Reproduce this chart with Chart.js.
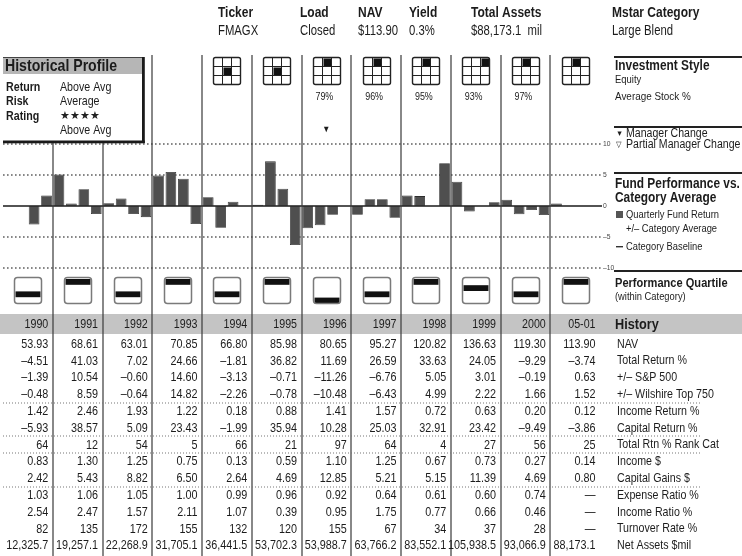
<!DOCTYPE html>
<html>
<head>
<meta charset="utf-8">
<script src="https://cdn.jsdelivr.net/npm/chart.js@4.4.0/dist/chart.umd.min.js"></script>
<style>
html, body { margin: 0; padding: 0; background: #fff; }
#wrap { position: relative; width: 742px; height: 556px; }
</style>
</head>
<body>
<div id="wrap"><canvas id="chart" width="742" height="556"></canvas></div>
<script>
// ---- data ----
const years = ['1990', '1991', '1992', '1993', '1994', '1995', '1996', '1997', '1998', '1999', '2000', '05-01'];
const quarterLabels = years.flatMap(y => ['Q1 ' + y, 'Q2 ' + y, 'Q3 ' + y, 'Q4 ' + y]);

// quarterly fund return +/- category average
const fundVsCat = [
  0, 0, -3.0, 1.7,
  5.1, 0.4, 2.7, -1.3,
  0.45, 1.2, -1.3, -1.8,
  4.9, 5.5, 4.4, -2.9,
  1.4, -3.5, 0.7, 0,
  0.2, 7.2, 2.8, -6.3,
  -3.6, -3.1, -1.4, 0,
  -1.4, 1.1, 1.1, -1.9,
  1.7, 1.6, 0, 6.9,
  3.9, -0.9, 0, 0.6,
  1.0, -1.35, -0.65, -1.45,
  0.4, null, null, null
];
const yTicks = [10, 5, 0, -5, -10];

const headerTitles = ['Ticker', 'Load', 'NAV', 'Yield', 'Total Assets', 'Mstar Category'];
const headerValues = ['FMAGX', 'Closed', '$113.90', '0.3%', '$88,173.1  mil', 'Large Blend'];

const profileLabels = ['Return', 'Risk', 'Rating', ''];
const profileValues = ['Above Avg', 'Average', '\u2605\u2605\u2605\u2605', 'Above Avg'];

// style box: cell index 0..8 (row*3+col), null = no box
const styleCells = [null, null, null, null, 4, 4, 1, 1, 1, 2, 1, 1];
const stockPct = [null, null, null, null, null, null, 79, 96, 95, 93, 97, null];
const managerChanges = [25]; // quarter index
const quartiles = [3, 1, 3, 1, 3, 1, 4, 3, 1, 2, 3, 1];

const nav = [53.93, 68.61, 63.01, 70.85, 66.80, 85.98, 80.65, 95.27, 120.82, 136.63, 119.30, 113.90];
const totalReturn = [-4.51, 41.03, 7.02, 24.66, -1.81, 36.82, 11.69, 26.59, 33.63, 24.05, -9.29, -3.74];
const vsSP500 = [-1.39, 10.54, -0.60, 14.60, -3.13, -0.71, -11.26, -6.76, 5.05, 3.01, -0.19, 0.63];
const vsWilshire = [-0.48, 8.59, -0.64, 14.82, -2.26, -0.78, -10.48, -6.43, 4.99, 2.22, 1.66, 1.52];
const incomeReturn = [1.42, 2.46, 1.93, 1.22, 0.18, 0.88, 1.41, 1.57, 0.72, 0.63, 0.20, 0.12];
const capitalReturn = [-5.93, 38.57, 5.09, 23.43, -1.99, 35.94, 10.28, 25.03, 32.91, 23.42, -9.49, -3.86];
const rankCat = [64, 12, 54, 5, 66, 21, 97, 64, 4, 27, 56, 25];
const incomeDollar = [0.83, 1.30, 1.25, 0.75, 0.13, 0.59, 1.10, 1.25, 0.67, 0.73, 0.27, 0.14];
const capGains = [2.42, 5.43, 8.82, 6.50, 2.64, 4.69, 12.85, 5.21, 5.15, 11.39, 4.69, 0.80];
const expenseRatio = [1.03, 1.06, 1.05, 1.00, 0.99, 0.96, 0.92, 0.64, 0.61, 0.60, 0.74, null];
const incomeRatio = [2.54, 2.47, 1.57, 2.11, 1.07, 0.39, 0.95, 1.75, 0.77, 0.66, 0.46, null];
const turnover = [82, 135, 172, 155, 132, 120, 155, 67, 34, 37, 28, null];
const netAssets = [12325.7, 19257.1, 22268.9, 31705.1, 36441.5, 53702.3, 53988.7, 63766.2, 83552.1, 105938.5, 93066.9, 88173.1];

const rowLabels = ['NAV', 'Total Return %', '+/\u2013 S&P 500', '+/\u2013 Wilshire Top 750', 'Income Return %',
  'Capital Return %', 'Total Rtn % Rank Cat', 'Income $', 'Capital Gains $', 'Expense Ratio %',
  'Income Ratio %', 'Turnover Rate %', 'Net Assets $mil'];
const tableRows = [nav, totalReturn, vsSP500, vsWilshire, incomeReturn, capitalReturn, rankCat,
  incomeDollar, capGains, expenseRatio, incomeRatio, turnover, netAssets];
const rowDecimals = [2, 2, 2, 2, 2, 2, 0, 2, 2, 2, 2, 0, 1];
const dottedAfterRow = [3, 5, 6, 8];

// ---- helpers ----
const FONT = '"Liberation Sans", Arial, sans-serif';
const INK = '#1c1c1c';

function txt(ctx, s, x, y, size, opt = {}) {
  ctx.save();
  ctx.translate(x, y);
  ctx.scale(opt.sx || 0.82, 1);
  ctx.font = (opt.bold ? 'bold ' : '') + size + 'px ' + FONT;
  ctx.textAlign = opt.align || 'left';
  ctx.textBaseline = 'middle';
  ctx.fillStyle = opt.color || INK;
  ctx.fillText(s, 0, 0);
  ctx.restore();
}

function dots(ctx, x0, x1, y, step, size, color) {
  ctx.fillStyle = color;
  for (let x = x0; x < x1; x += step) ctx.fillRect(x, y - size / 2, size, size);
}

function fmt(v, d) {
  if (v === null || v === undefined) return '\u2014';
  let s = Math.abs(v).toFixed(d);
  if (d === 1) {
    const p = s.split('.');
    s = p[0].replace(/\B(?=(\d{3})+(?!\d))/g, ',') + '.' + p[1];
  }
  return (v < 0 ? '\u2013' : '') + s;
}

function roundRect(ctx, x, y, w, h, r) {
  ctx.beginPath();
  ctx.moveTo(x + r, y);
  ctx.arcTo(x + w, y, x + w, y + h, r);
  ctx.arcTo(x + w, y + h, x, y + h, r);
  ctx.arcTo(x, y + h, x, y, r);
  ctx.arcTo(x, y, x + w, y, r);
  ctx.closePath();
}

function columns(chart) {
  const xs = chart.scales.x, a = chart.chartArea;
  const qw = (a.right - a.left) / quarterLabels.length;
  return years.map((y, j) => {
    const left = xs.getPixelForValue(j * 4) - qw / 2;
    return { left, right: left + qw * 4, center: left + qw * 2 };
  });
}

const pagePlugin = {
  id: 'page',
  beforeDatasetsDraw(chart) {
    const ctx = chart.ctx, ys = chart.scales.y, a = chart.chartArea;
    ctx.save();
    yTicks.forEach(v => {
      if (v !== 0) dots(ctx, a.left, a.right, Math.round(ys.getPixelForValue(v)), 4, 1.6, '#6a6a6a');
    });
    ctx.restore();
  },
  afterDraw(chart) {
    const ctx = chart.ctx, ys = chart.scales.y, xs = chart.scales.x, a = chart.chartArea;
    const cols = columns(chart);
    const qw = (a.right - a.left) / quarterLabels.length;
    ctx.save();

    // zero baseline + y labels
    const y0 = ys.getPixelForValue(0);
    ctx.fillStyle = '#2a2a2a';
    ctx.fillRect(a.left, y0 - 0.8, a.right - a.left + 2, 1.6);
    yTicks.forEach(v => {
      txt(ctx, v < 0 ? '\u2013' + Math.abs(v) : String(v), a.right + 3, ys.getPixelForValue(v), 7.5, { sx: 0.9, color: '#444' });
    });

    // history band
    ctx.fillStyle = '#c4c4c4';
    ctx.fillRect(0, 314, 742, 20);

    // column dividers
    ctx.fillStyle = '#3a3a3a';
    cols.forEach((c, j) => {
      if (j === 0) return;
      const top = j <= 2 ? 143 : 55;
      ctx.fillRect(Math.round(c.left) - 0.6, top, 1.2, 556 - top);
    });

    // top header
    const hx = [218, 300, 358, 409, 471, 612];
    headerTitles.forEach((t, i) => {
      txt(ctx, t, hx[i], 13, 15, { bold: true, sx: 0.8 });
      txt(ctx, headerValues[i], hx[i], 31, 14.5, { sx: 0.78 });
    });

    // historical profile box
    ctx.fillStyle = '#fff';
    ctx.fillRect(0, 55, 146, 88);
    ctx.fillStyle = '#b6b6b6';
    ctx.fillRect(3, 57, 140, 17);
    ctx.fillStyle = '#444';
    ctx.fillRect(3, 57, 140, 1);
    ctx.fillStyle = '#1a1a1a';
    ctx.fillRect(142, 57, 2.8, 86);
    ctx.fillRect(3, 140.5, 141.8, 2.8);
    txt(ctx, 'Historical Profile', 5, 66.5, 17, { bold: true, sx: 0.83 });
    profileLabels.forEach((l, i) => {
      const y = 87 + i * 14.5;
      if (l) txt(ctx, l, 6, y, 13, { bold: true });
      if (i === 2) txt(ctx, profileValues[i], 60, y, 11, { sx: 1, color: '#222' });
      else txt(ctx, profileValues[i], 60, y, 13);
    });

    // style boxes
    cols.forEach((c, j) => {
      const cell = styleCells[j];
      if (cell === null) return;
      const s = 9, bx = Math.round(c.center - 13.5) + 0.5, by = 57.5;
      ctx.fillStyle = '#111';
      ctx.fillRect(bx + (cell % 3) * s + 1, by + Math.floor(cell / 3) * s + 1, s - 1, s - 1);
      ctx.strokeStyle = '#222';
      ctx.lineWidth = 1;
      ctx.beginPath();
      for (let k = 1; k < 3; k++) {
        ctx.moveTo(bx + k * s, by); ctx.lineTo(bx + k * s, by + 3 * s);
        ctx.moveTo(bx, by + k * s); ctx.lineTo(bx + 3 * s, by + k * s);
      }
      ctx.stroke();
      ctx.lineWidth = 1.4;
      roundRect(ctx, bx, by, 3 * s, 3 * s, 2);
      ctx.stroke();
      if (stockPct[j] !== null) txt(ctx, stockPct[j] + '%', c.center - 2, 97, 10.5, { align: 'center', sx: 0.85 });
    });

    // manager change marker
    managerChanges.forEach(q => {
      txt(ctx, '\u25BC', xs.getPixelForValue(q) + qw / 2, 130, 9, { align: 'center', sx: 0.9 });
    });

    // quartile boxes
    cols.forEach((c, j) => {
      const bx = Math.round(c.center - 13.5) + 0.5, by = 277.5;
      ctx.fillStyle = '#111';
      ctx.fillRect(bx + 1, by + 1.5 + (quartiles[j] - 1) * 6.2, 25, 5.8);
      ctx.strokeStyle = '#7a7a7a';
      ctx.lineWidth = 1.5;
      roundRect(ctx, bx, by, 27, 26, 3);
      ctx.stroke();
    });

    // history years
    cols.forEach((c, j) => txt(ctx, years[j], c.right - 4.5, 324.5, 13, { align: 'right' }));

    // table
    tableRows.forEach((row, r) => {
      const y = 344 + r * 16.8;
      cols.forEach((c, j) => txt(ctx, fmt(row[j], rowDecimals[r]), c.right - 4.5, y, 13.5, { align: 'right', sx: 0.8 }));
      txt(ctx, rowLabels[r], 617, y, 13);
    });
    dottedAfterRow.forEach(r => dots(ctx, 3, 700, Math.round(344 + r * 16.8 + 8.4), 3, 1, '#777'));

    // right panel
    ctx.fillStyle = '#222';
    [56, 126, 172, 270].forEach(y => ctx.fillRect(614, y, 128, 2));
    txt(ctx, 'Investment Style', 615, 66, 14.5, { bold: true });
    txt(ctx, 'Equity', 615, 80, 10.5, { sx: 0.9 });
    txt(ctx, 'Average Stock %', 615, 97, 11, { sx: 0.9 });
    txt(ctx, '\u25BC', 616, 134, 8, { sx: 0.9 });
    txt(ctx, 'Manager Change', 626, 134, 12, { sx: 0.88 });
    txt(ctx, '\u25BD', 616, 145, 8, { sx: 0.9 });
    txt(ctx, 'Partial Manager Change', 626, 145, 12, { sx: 0.88 });
    txt(ctx, 'Fund Performance vs.', 615, 184, 14.5, { bold: true });
    txt(ctx, 'Category Average', 615, 198, 14.5, { bold: true });
    ctx.fillStyle = '#555';
    ctx.fillRect(616, 211, 7, 7);
    txt(ctx, 'Quarterly Fund Return', 626, 215, 11, { sx: 0.85 });
    txt(ctx, '+/\u2013 Category Average', 626, 229, 11, { sx: 0.85 });
    ctx.fillStyle = '#333';
    ctx.fillRect(616, 246, 7, 1.4);
    txt(ctx, 'Category Baseline', 626, 247, 11, { sx: 0.85 });
    txt(ctx, 'Performance Quartile', 615, 283, 13.5, { bold: true });
    txt(ctx, '(within Category)', 615, 297, 11, { sx: 0.85 });
    txt(ctx, 'History', 615, 324.5, 15.5, { bold: true });

    ctx.restore();
  }
};

new Chart(document.getElementById('chart').getContext('2d'), {
  type: 'bar',
  data: {
    labels: quarterLabels,
    datasets: [{
      label: 'Quarterly Fund Return +/- Category Average',
      data: fundVsCat,
      backgroundColor: '#4f4f4f',
      borderColor: '#2e2e2e',
      borderWidth: 0.8,
      barPercentage: 0.86,
      categoryPercentage: 1.0
    }]
  },
  options: {
    responsive: false,
    animation: false,
    devicePixelRatio: 1,
    layout: { padding: { left: 3, right: 142, top: 144, bottom: 288 } },
    scales: {
      x: { display: false },
      y: { display: false, min: -10, max: 10 }
    },
    plugins: {
      legend: { display: false },
      tooltip: { enabled: false }
    }
  },
  plugins: [pagePlugin]
});
</script>
</body>
</html>
